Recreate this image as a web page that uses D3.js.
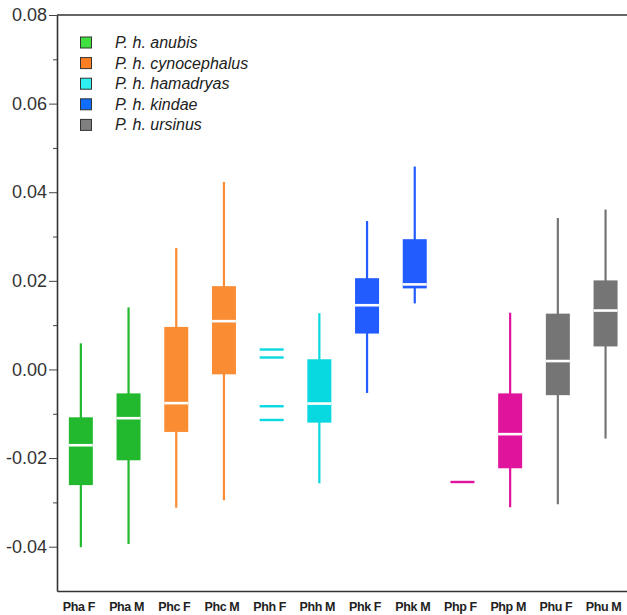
<!DOCTYPE html>
<html>
<head>
<meta charset="utf-8">
<script src="https://cdn.jsdelivr.net/npm/d3@7"></script>
<style>
  body { margin: 0; background: #fff; }
  .axis text { font-family: "Liberation Sans", Arial, sans-serif; }
  .y-axis text { font-size: 18px; fill: #333; }
  .x-axis text { font-size: 12.5px; font-weight: bold; fill: #222; letter-spacing: -0.4px; }
  .legend text { font-family: "Liberation Sans", Arial, sans-serif; font-style: italic; font-size: 16px; fill: #222; }
</style>
</head>
<body>
<svg id="chart"></svg>
<script>

// groups along the x axis
const categories = ["Pha F", "Pha M", "Phc F", "Phc M", "Phh F", "Phh M", "Phk F", "Phk M", "Php F", "Php M", "Phu F", "Phu M"];
const taxa = ["anubis", "anubis", "cynocephalus", "cynocephalus", "hamadryas", "hamadryas", "kindae", "kindae", "papio", "papio", "ursinus", "ursinus"];

// box plot statistics (null = too few specimens for a box)
const whiskerHigh = [0.0059, 0.0140, 0.0274, 0.0423, null, 0.0127, 0.0335, 0.0458, null, 0.0128, 0.0342, 0.0361];
const q3 =          [-0.0108, -0.0054, 0.0096, 0.0188, null, 0.0023, 0.0206, 0.0294, null, -0.0054, 0.0126, 0.0201];
const medians =     [-0.0171, -0.0110, -0.0076, 0.0109, null, -0.0077, 0.0145, 0.0192, null, -0.0146, 0.0019, 0.0133];
const q1 =          [-0.0261, -0.0205, -0.0141, -0.0011, null, -0.0120, 0.0081, 0.0183, null, -0.0223, -0.0058, 0.0052];
const whiskerLow =  [-0.0401, -0.0394, -0.0312, -0.0295, null, -0.0257, -0.0053, 0.0149, null, -0.0311, -0.0304, -0.0156];

// individual values drawn as short lines for the small samples
const singleValues = [[], [], [], [], [0.0045, 0.0027, -0.0083, -0.0114], [], [], [], [-0.0254], [], [], []];

// y axis
const yTicks = [-0.04, -0.02, 0.00, 0.02, 0.04, 0.06, 0.08];
const yMinorTicks = [-0.03, -0.01, 0.01, 0.03, 0.05, 0.07];

// legend
const legendTaxa = ["anubis", "cynocephalus", "hamadryas", "kindae", "ursinus"];
const legendLabels = ["P. h. anubis", "P. h. cynocephalus", "P. h. hamadryas", "P. h. kindae", "P. h. ursinus"];

const boxColors = {
    anubis: "#22b92e", cynocephalus: "#fa8c34", hamadryas: "#08d8df",
    kindae: "#225cff", papio: "#e0149c", ursinus: "#757575"
};
const swatchColors = {
    anubis: "#3fe03f", cynocephalus: "#ff7f22", hamadryas: "#2ff0f0",
    kindae: "#0f6dff", ursinus: "#808080"
};

class BoxPlot {
    constructor(_config) {
        this.config = {
            parentElement: _config.parentElement,
            containerWidth: _config.containerWidth || 627,
            containerHeight: _config.containerHeight || 615,
            left: 57, top: 15, bottom: 591, bandStep: 47.7
        };
        this.initVis();
    }

    initVis() {
        let vis = this;
        const c = vis.config;

        vis.svg = d3.select(c.parentElement)
            .attr('width', c.containerWidth)
            .attr('height', c.containerHeight);

        vis.yScale = d3.scaleLinear()
            .domain([-0.05, 0.08])
            .range([c.bottom, c.top]);

        vis.xScale = d3.scaleBand()
            .domain(categories)
            .range([c.left, c.left + categories.length * c.bandStep])
            .padding(0);

        vis.data = categories.map((d, i) => ({
            name: d, taxon: taxa[i],
            hi: whiskerHigh[i], q3: q3[i], med: medians[i], q1: q1[i], lo: whiskerLow[i],
            points: singleValues[i]
        }));

        vis.renderVis();
    }

    renderVis() {
        let vis = this;
        const c = vis.config;
        const boxW = 24;
        const cx = d => vis.xScale(d.name) + vis.xScale.bandwidth() / 2;

        // top frame line
        vis.svg.append('line')
            .attr('x1', c.left).attr('x2', c.containerWidth)
            .attr('y1', c.top).attr('y2', c.top)
            .attr('stroke', '#666').attr('stroke-width', 2);

        // minor ticks
        vis.svg.append('g')
            .attr('class', 'axis y-minor')
            .attr('transform', `translate(${c.left},0)`)
            .call(d3.axisLeft(vis.yScale).tickValues(yMinorTicks).tickSize(4).tickFormat(''))
            .call(g => g.select('.domain').remove())
            .selectAll('line').attr('stroke', '#444');

        // y axis
        vis.yAxisG = vis.svg.append('g')
            .attr('class', 'axis y-axis')
            .attr('transform', `translate(${c.left},0)`)
            .call(d3.axisLeft(vis.yScale)
                .tickValues(yTicks)
                .tickSize(8)
                .tickSizeOuter(0)
                .tickPadding(2)
                .tickFormat(d => d.toFixed(2)));
        vis.yAxisG.select('.domain').attr('stroke', '#333').attr('stroke-width', 1.6);
        vis.yAxisG.selectAll('.tick line').attr('stroke', '#444');

        // x axis
        vis.xAxisG = vis.svg.append('g')
            .attr('class', 'axis x-axis')
            .attr('transform', `translate(0,${c.bottom})`)
            .call(d3.axisBottom(vis.xScale).tickSize(0).tickSizeOuter(0).tickPadding(11));
        vis.xAxisG.select('.domain').attr('stroke', '#333').attr('stroke-width', 1.6);
        vis.xAxisG.selectAll('.tick text').attr('dx', '-2');

        const boxes = vis.data.filter(d => d.q3 !== null);
        const marks = vis.svg.append('g').attr('class', 'boxes');

        // whiskers
        marks.selectAll('.whisker')
            .data(boxes)
            .join('line')
            .attr('class', 'whisker')
            .attr('x1', cx).attr('x2', cx)
            .attr('y1', d => vis.yScale(d.hi))
            .attr('y2', d => vis.yScale(d.lo))
            .attr('stroke', d => boxColors[d.taxon])
            .attr('stroke-width', 2.2);

        // boxes
        marks.selectAll('.box')
            .data(boxes)
            .join('rect')
            .attr('class', 'box')
            .attr('x', d => cx(d) - boxW / 2)
            .attr('width', boxW)
            .attr('y', d => vis.yScale(d.q3))
            .attr('height', d => vis.yScale(d.q1) - vis.yScale(d.q3))
            .attr('fill', d => boxColors[d.taxon]);

        // medians
        marks.selectAll('.median')
            .data(boxes)
            .join('line')
            .attr('class', 'median')
            .attr('x1', d => cx(d) - boxW / 2)
            .attr('x2', d => cx(d) + boxW / 2)
            .attr('y1', d => vis.yScale(d.med))
            .attr('y2', d => vis.yScale(d.med))
            .attr('stroke', '#fff')
            .attr('stroke-width', 2.6);

        // single values
        const pts = vis.data.flatMap(d => d.points.map(v => ({ d: d, v: v })));
        marks.selectAll('.point')
            .data(pts)
            .join('line')
            .attr('class', 'point')
            .attr('x1', p => cx(p.d) - boxW / 2)
            .attr('x2', p => cx(p.d) + boxW / 2)
            .attr('y1', p => vis.yScale(p.v))
            .attr('y2', p => vis.yScale(p.v))
            .attr('stroke', p => boxColors[p.d.taxon])
            .attr('stroke-width', 2.4);

        // legend
        vis.legend = vis.svg.append('g')
            .attr('class', 'legend')
            .attr('transform', 'translate(80,42.5)');
        const items = vis.legend.selectAll('.item')
            .data(legendTaxa)
            .join('g')
            .attr('class', 'item')
            .attr('transform', (d, i) => `translate(0,${i * 20.6})`);
        items.append('rect')
            .attr('x', 0.5).attr('y', -5.5)
            .attr('width', 11).attr('height', 11)
            .attr('fill', d => swatchColors[d])
            .attr('stroke', '#333').attr('stroke-width', 1);
        items.append('text')
            .attr('x', 35).attr('y', 5.5)
            .text((d, i) => legendLabels[i]);
    }
}

new BoxPlot({ parentElement: '#chart' });
</script>
</body>
</html>
